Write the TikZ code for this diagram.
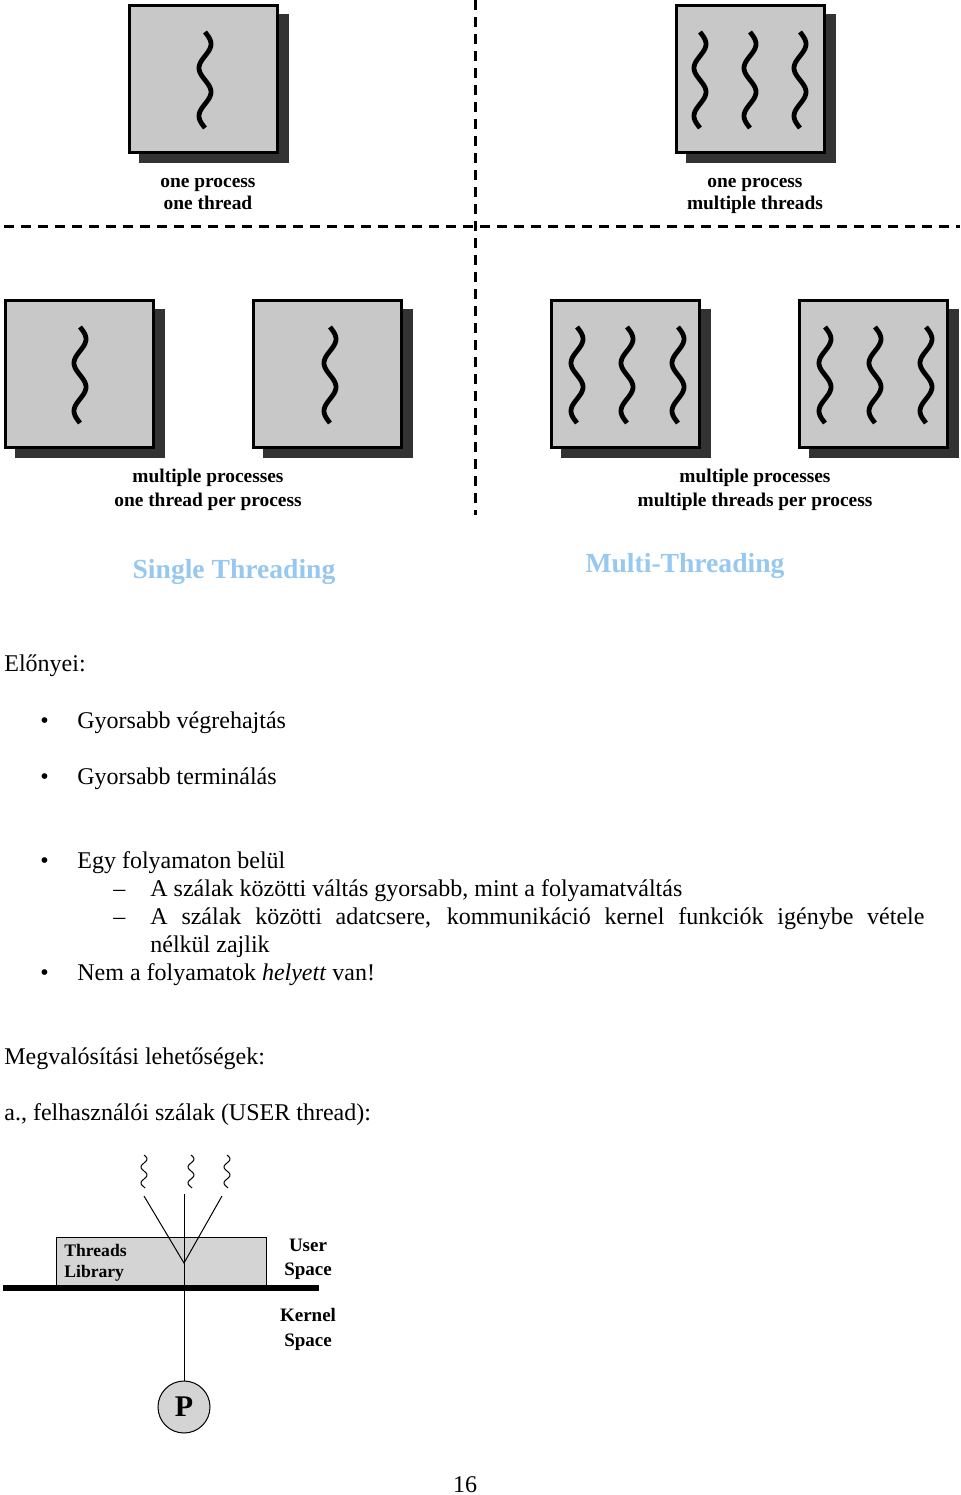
\documentclass[tikz,border=0pt]{standalone}
\usepackage{fontspec}
\setmainfont{Liberation Serif}
\definecolor{boxgray}{RGB}{200,200,200}
\definecolor{libgray}{RGB}{212,212,212}
\definecolor{shadowc}{RGB}{51,51,51}
\definecolor{titleblue}{RGB}{150,200,240}
\newcommand{\bigthread}[2]{\draw[line width=2.4pt] plot[domain=0:96,samples=60,smooth,variable=\t] ({#1+6*sin(7.5*\t)},{#2+\t});}
\newcommand{\smallthread}[2]{\draw[line width=0.5pt] plot[domain=0:33,samples=40,smooth,variable=\t] ({#1+3*sin(22.5*\t)},{#2+\t});}
\newcommand{\procbox}[2]{%
  \fill[shadowc] ({#1+11},{#2+10}) rectangle ({#1+161},{#2+159});
  \draw[fill=boxgray,line width=1.5pt] ({#1+1.5},{#2+1.5}) rectangle ({#1+149.5},{#2+148.5});}
\tikzset{
  lab/.style={font=\fontsize{9.7}{11}\selectfont\bfseries, anchor=base, inner sep=0pt},
  body/.style={font=\fontsize{12}{14}\selectfont, anchor=base west, inner sep=0pt},
  title/.style={font=\fontsize{13.8}{16}\selectfont\bfseries, text=titleblue, anchor=base, inner sep=0pt},
  dl/.style={line width=1.5pt, dash pattern=on 5pt off 3.5pt},
  small/.style={font=\fontsize{9.5}{11}\selectfont\bfseries, inner sep=0pt},
  libtext/.style={font=\fontsize{8.8}{10.5}\selectfont\bfseries, inner sep=0pt, anchor=base west},
}
\begin{document}
\begin{tikzpicture}[x=0.5pt,y=-0.5pt]
\useasboundingbox[fill=white] (0,0) rectangle (960,1495);
% dashed separators
\coordinate (hl) at (4,226); \coordinate (hr) at (960,226);
\coordinate (vt) at (475,0); \coordinate (vb) at (475,515);
\draw[dl] (hl) -- (hr);
\draw[dl] (vt) -- (vb);
% top left
\procbox{128}{4}
\bigthread{205}{32}
\node[lab] (l1a) at (208,187) {one process};
\node[lab] (l1b) at (208,209) {one thread};
% top right
\procbox{675}{4}
\bigthread{700}{32}\bigthread{750}{32}\bigthread{800}{32}
\node[lab] (l2a) at (755,187) {one process};
\node[lab] (l2b) at (755,209) {multiple threads};
% bottom left
\procbox{4}{299}
\bigthread{80}{327}
\procbox{252}{299}
\bigthread{330}{327}
\node[lab] (l3a) at (208,482) {multiple processes};
\node[lab] (l3b) at (208,506) {one thread per process};
% bottom right
\procbox{550}{299}
\bigthread{577}{327}\bigthread{627}{327}\bigthread{678}{327}
\procbox{798}{299}
\bigthread{825}{327}\bigthread{875}{327}\bigthread{926}{327}
\node[lab] (l4a) at (755,482) {multiple processes};
\node[lab] (l4b) at (755,506) {multiple threads per process};
% titles
\node[title] (t1) at (234,578) {Single Threading};
\node[title] (t2) at (685,572) {Multi-Threading};
% text
\node[body] (e0) at (4,671) {Előnyei:};
\node[body] (b1) at (40,728) {•};
\node[body] (e1) at (77,728) {Gyorsabb végrehajtás};
\node[body] (b2) at (40,784) {•};
\node[body] (e2) at (77,784) {Gyorsabb terminálás};
\node[body] (b3) at (40,868) {•};
\node[body] (e3) at (77,868) {Egy folyamaton belül};
\node[body] (d1) at (113,896) {–};
\node[body] (e4) at (150,896) {A szálak közötti váltás gyorsabb, mint a folyamatváltás};
\node[body] (d2) at (113,924) {–};
\node[body] (e5) at (150,924) {\makebox[387pt][s]{A szálak közötti adatcsere, kommunikáció kernel funkciók igénybe vétele}};
\node[body] (e6) at (150,952) {nélkül zajlik};
\node[body] (b4) at (40,980) {•};
\node[body] (e7) at (77,980) {Nem a folyamatok \textit{helyett} van!};
\node[body] (e8) at (4,1064) {Megvalósítási lehetőségek:};
\node[body] (e9) at (4,1120) {a., felhasználói szálak (USER thread):};
\node[font=\fontsize{12}{14}\selectfont, anchor=base, inner sep=0pt] (pg) at (465,1492) {16};
% user thread diagram
\node[draw, line width=0.5pt, fill=libgray, minimum width=105pt, minimum height=24.5pt, inner sep=0pt] (lib) at (161,1261.5) {};
\node[libtext] (libt1) at (64,1256) {Threads};
\node[libtext] (libt2) at (64,1277) {Library};
\node[small, anchor=base] (us1) at (308,1251) {User};
\node[small, anchor=base] (us2) at (308,1275) {Space};
\node[small, anchor=base] (ks1) at (308,1321) {Kernel};
\node[small, anchor=base] (ks2) at (308,1346) {Space};
\coordinate (ta) at (144,1196);
\coordinate (tb) at (184,1194);
\coordinate (tc) at (222,1196);
\coordinate (vtip) at (184,1263);
\node[circle, draw, line width=0.5pt, fill=libgray, minimum size=26pt, inner sep=0pt, font=\fontsize{15}{17}\selectfont\bfseries] (P) at (184,1407) {P};
\draw[line width=0.5pt] (ta) -- (vtip) -- (tc);
\draw[line width=0.5pt] (tb) -- (P);
\coordinate (kl) at (3,1288); \coordinate (kr) at (319,1288);
\draw[line width=3pt] (kl) -- (kr);
\smallthread{144}{1155}
\smallthread{191}{1155}
\smallthread{227}{1155}
\end{tikzpicture}
\end{document}
